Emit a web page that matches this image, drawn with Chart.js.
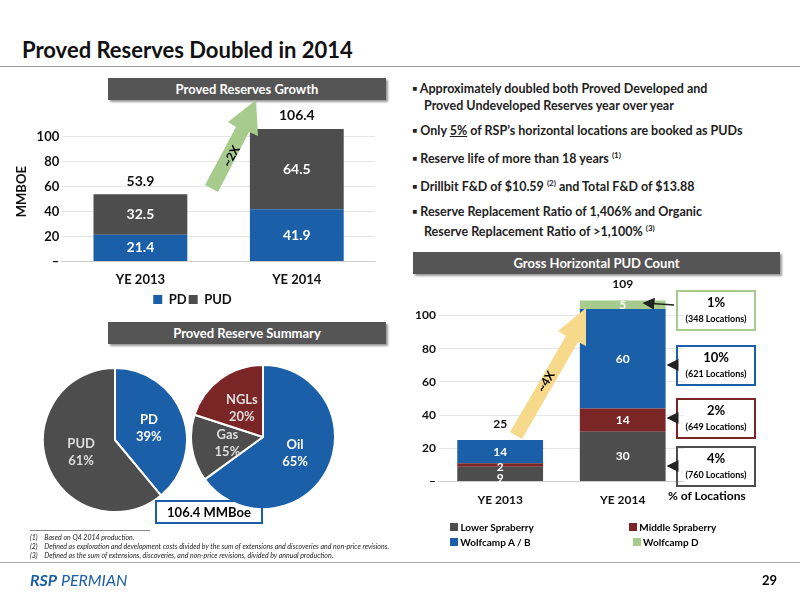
<!DOCTYPE html>
<html><head><meta charset="utf-8">
<script src="https://cdn.jsdelivr.net/npm/chart.js@4/dist/chart.umd.min.js"></script>
<style>
body{margin:0;width:800px;height:600px;position:relative;background:#fff;font-family:Lato,"Open Sans",sans-serif;overflow:hidden}
.abs{position:absolute}
.hdr{position:absolute;background:#555;color:#fff;font-weight:bold;font-size:13px;text-align:center;line-height:22px;box-shadow:2px 2px 2px #999}
.bul{position:absolute;left:410px;width:335px;font-size:12.5px;font-weight:bold;color:#222;line-height:17px}
.bul div{padding-left:14px;text-indent:-12px;margin-bottom:8px}
.box{position:absolute;left:676px;width:76px;border:2px solid;text-align:center;font-weight:bold;font-size:13px;line-height:15px;padding:3px 0}
.box small{font-size:9px;font-weight:bold}
sup{font-size:8px}
</style></head><body>
<div class="abs" style="left:22px;top:36px;font-size:22px;font-weight:bold;color:#111">Proved Reserves Doubled in 2014</div>
<div class="abs" style="left:0;top:66px;width:800px;height:1px;background:#999"></div>
<div class="hdr" style="left:108px;top:78px;width:278px">Proved Reserves Growth</div>
<div class="hdr" style="left:108px;top:322px;width:278px">Proved Reserve Summary</div>
<div class="hdr" style="left:413px;top:252px;width:367px">Gross Horizontal PUD Count</div>
<div class="abs" style="left:10px;top:108px"><canvas id="c1" width="375" height="208"></canvas></div>
<div class="abs" style="left:42px;top:367px"><canvas id="p1" width="146" height="146"></canvas></div>
<div class="abs" style="left:190px;top:364px"><canvas id="p2" width="146" height="146"></canvas></div>
<div class="abs" style="left:412px;top:268px"><canvas id="c2" width="280" height="242"></canvas></div>
<div class="abs" style="left:668px;top:488px;font-size:12px;font-weight:bold">% of Locations</div>
<div class="abs" style="left:155px;top:500px;width:104px;height:20px;border:2px solid #1a5fa8;text-align:center;font-weight:bold;font-size:13px;line-height:20px">106.4 MMBoe</div>
<div class="abs" style="left:450px;top:520px;font-size:10px;font-weight:bold;line-height:15px">
<div><span style="display:inline-block;width:8px;height:8px;background:#4d4d4d"></span> Lower Spraberry<span style="display:inline-block;width:95px"></span><span style="display:inline-block;width:8px;height:8px;background:#7b2626"></span> Middle Spraberry</div>
<div><span style="display:inline-block;width:8px;height:8px;background:#1a5fa8"></span> Wolfcamp A / B<span style="display:inline-block;width:102px"></span><span style="display:inline-block;width:8px;height:8px;background:#a6cb8c"></span> Wolfcamp D</div></div>
<div class="bul" style="top:80px">
<div>▪ Approximately doubled both Proved Developed and Proved Undeveloped Reserves year over year</div>
<div>▪ Only <u>5%</u> of RSP’s horizontal locations are booked as PUDs</div>
<div>▪ Reserve life of more than 18 years <sup>(1)</sup></div>
<div>▪ Drillbit F&amp;D of $10.59 <sup>(2)</sup> and Total F&amp;D of $13.88</div>
<div>▪ Reserve Replacement Ratio of 1,406% and Organic Reserve Replacement Ratio of &gt;1,100% <sup>(3)</sup></div></div>
<div class="box" style="top:290px;border-color:#a6cb8c">1%<br><small>(348 Locations)</small></div>
<div class="box" style="top:345px;border-color:#1a5fa8">10%<br><small>(621 Locations)</small></div>
<div class="box" style="top:398px;border-color:#7b2626">2%<br><small>(649 Locations)</small></div>
<div class="box" style="top:446px;border-color:#4d4d4d">4%<br><small>(760 Locations)</small></div>
<svg class="abs" style="left:0;top:0" width="800" height="600">
<defs><marker id="ah" markerWidth="8" markerHeight="8" refX="7" refY="4" orient="auto"><path d="M0,0 L8,4 L0,8 z" fill="#222"/></marker></defs>
<line x1="674" y1="305" x2="644" y2="303" stroke="#222" stroke-width="1.5" marker-end="url(#ah)"/>
<line x1="674" y1="365" x2="668" y2="365" stroke="#222" stroke-width="1.5" marker-end="url(#ah)"/>
<line x1="674" y1="418" x2="668" y2="418" stroke="#222" stroke-width="1.5" marker-end="url(#ah)"/>
<line x1="674" y1="466" x2="668" y2="466" stroke="#222" stroke-width="1.5" marker-end="url(#ah)"/>
<polygon points="205,185 236,127 228,122 256,100 258,136 249,132 218,192" fill="#a6cb8c"/>
<text x="222" y="165" transform="rotate(-60 228 160)" font-size="12" font-weight="bold" font-family="Lato">~2X</text>
<polygon points="510,432 566,336 558,331 586,308 586,346 578,342 522,439" fill="#f6d98a"/>
<text x="528" y="385" transform="rotate(-58 543 375)" font-size="12" font-weight="bold" font-family="Lato">~4X</text>
</svg>
<div class="abs" style="left:30px;top:530px;width:120px;height:1px;background:#888"></div>
<div class="abs" style="left:30px;top:533px;font-size:7px;font-style:italic;line-height:9px;color:#222">
<div>(1)&nbsp;&nbsp;&nbsp;&nbsp;Based on Q4 2014 production.</div>
<div>(2)&nbsp;&nbsp;&nbsp;&nbsp;Defined as exploration and development costs divided by the sum of extensions and discoveries and non-price revisions.</div>
<div>(3)&nbsp;&nbsp;&nbsp;&nbsp;Defined as the sum of extensions, discoveries, and non-price revisions, divided by annual production.</div></div>
<div class="abs" style="left:0;top:562px;width:800px;height:1px;background:#aaa"></div>
<div class="abs" style="left:30px;top:570px;font-size:16px;font-weight:bold;font-style:italic;color:#1a5fa8">RSP<span style="font-weight:normal"> PERMIAN</span></div>
<div class="abs" style="left:762px;top:572px;font-size:13px;font-weight:bold">29</div>
<script>
const years = ['YE 2013', 'YE 2014'];
const pdValues = [21.4, 41.9];
const pudValues = [32.5, 64.5];
const totals1 = [53.9, 106.4];
const pieLabels1 = ['PD', 'PUD'];
const pieValues1 = [39, 61];
const pieLabels2 = ['Oil', 'Gas', 'NGLs'];
const pieValues2 = [65, 15, 20];
const lowerSpraberry = [9, 30];
const middleSpraberry = [2, 14];
const wolfcampAB = [14, 60];
const wolfcampD = [0, 5];
const totals2 = [25, 109];
const yTicks = [0, 20, 40, 60, 80, 100];

const BLUE = '#1a5fa8', GRAY = '#4d4d4d', RED = '#7b2626', GREEN = '#a6cb8c';
Chart.defaults.font.family = 'Lato';
Chart.defaults.font.weight = 'bold';
Chart.defaults.color = '#111';
Chart.defaults.animation = false;

const barLabels = {
    id: 'barLabels',
    afterDatasetsDraw(chart, args, opts) {
        const ctx = chart.ctx;
        ctx.save();
        ctx.textAlign = 'center';
        ctx.textBaseline = 'middle';
        ctx.font = 'bold ' + opts.size + 'px Lato';
        chart.data.datasets.forEach((ds, i) => {
            chart.getDatasetMeta(i).data.forEach((el, j) => {
                if (!ds.data[j]) return;
                ctx.fillStyle = '#fff';
                ctx.fillText(ds.data[j], el.x, (el.y + el.base) / 2 + (ds.labelShift ? ds.labelShift[j] : 0));
            });
        });
        const last = chart.getDatasetMeta(chart.data.datasets.length - 1).data;
        ctx.fillStyle = '#111';
        opts.totals.forEach((t, j) => {
            const y = Math.min(...chart.data.datasets.map((d, i) => chart.getDatasetMeta(i).data[j].y));
            ctx.fillText(t, last[j].x, y - opts.gap);
        });
        ctx.restore();
    }
};

const pieLabels = {
    id: 'pieLabels',
    afterDatasetsDraw(chart) {
        const ctx = chart.ctx;
        ctx.save();
        ctx.textAlign = 'center';
        ctx.font = 'bold 13px Lato';
        chart.getDatasetMeta(0).data.forEach((el, j) => {
            const p = el.tooltipPosition();
            ctx.fillStyle = chart.data.datasets[0].labelColor[j];
            ctx.fillText(chart.data.labels[j], p.x, p.y - 4);
            ctx.fillText(chart.data.datasets[0].data[j] + '%', p.x, p.y + 13);
        });
        ctx.restore();
    }
};

function yAxis(size, max) {
    return {
        stacked: true, min: 0, max: max,
        afterBuildTicks: s => { s.ticks = yTicks.map(v => ({ value: v })); },
        ticks: { callback: v => v === 0 ? '–' : v, font: { size: size } },
        grid: { color: '#e6e6e6', drawTicks: false },
        border: { display: false }
    };
}

new Chart(document.getElementById('c1'), {
    type: 'bar',
    data: {
        labels: years,
        datasets: [
            { label: 'PD', data: pdValues, backgroundColor: BLUE },
            { label: 'PUD', data: pudValues, backgroundColor: GRAY }
        ]
    },
    options: {
        responsive: false,
        layout: { padding: { top: 14, right: 10 } },
        plugins: {
            legend: { position: 'bottom', labels: { boxWidth: 9, boxHeight: 9, font: { size: 13 }, padding: 2 } },
            tooltip: { enabled: false },
            barLabels: { totals: totals1, size: 14, gap: 13 }
        },
        scales: {
            x: { stacked: true, grid: { display: false }, ticks: { font: { size: 13 } } },
            y: Object.assign(yAxis(13, 112), { title: { display: true, text: 'MMBOE', font: { size: 13 } } })
        },
        datasets: { bar: { categoryPercentage: 0.6, barPercentage: 1 } }
    },
    plugins: [barLabels]
});

new Chart(document.getElementById('p1'), {
    type: 'pie',
    data: { labels: pieLabels1, datasets: [{ data: pieValues1, backgroundColor: [BLUE, GRAY], borderColor: '#fff', borderWidth: 2, labelColor: ['#fff', '#ddd'] }] },
    options: { responsive: false, plugins: { legend: { display: false }, tooltip: { enabled: false } } },
    plugins: [pieLabels]
});

new Chart(document.getElementById('p2'), {
    type: 'pie',
    data: { labels: pieLabels2, datasets: [{ data: pieValues2, backgroundColor: [BLUE, GRAY, RED], borderColor: '#fff', borderWidth: 2, labelColor: ['#fff', '#ddd', '#ddd'] }] },
    options: { responsive: false, plugins: { legend: { display: false }, tooltip: { enabled: false } } },
    plugins: [pieLabels]
});

new Chart(document.getElementById('c2'), {
    type: 'bar',
    data: {
        labels: years,
        datasets: [
            { label: 'Lower Spraberry', data: lowerSpraberry, backgroundColor: GRAY, labelShift: [4, 0] },
            { label: 'Middle Spraberry', data: middleSpraberry, backgroundColor: RED, labelShift: [2, 0] },
            { label: 'Wolfcamp A / B', data: wolfcampAB, backgroundColor: BLUE },
            { label: 'Wolfcamp D', data: wolfcampD, backgroundColor: GREEN }
        ]
    },
    options: {
        responsive: false,
        layout: { padding: { top: 21, right: 8 } },
        plugins: { legend: { display: false }, tooltip: { enabled: false }, barLabels: { totals: totals2, size: 12, gap: 16 } },
        scales: {
            x: { stacked: true, grid: { display: false }, ticks: { font: { size: 12 } } },
            y: yAxis(12, 116)
        },
        datasets: { bar: { categoryPercentage: 0.7, barPercentage: 1 } }
    },
    plugins: [barLabels]
});
</script>
</body></html>
